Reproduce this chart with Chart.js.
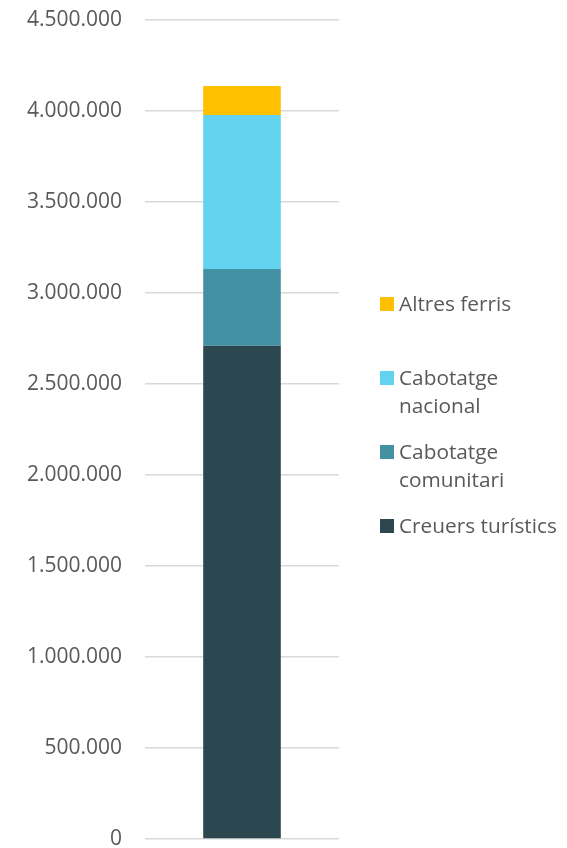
<!DOCTYPE html>
<html>
<head>
<meta charset="utf-8">
<script src="https://cdn.jsdelivr.net/npm/chart.js@4.4.1/dist/chart.umd.min.js"></script>
<style>
  html, body { margin: 0; padding: 0; background: #fff; }
  #wrap { width: 567px; height: 848px; }
</style>
</head>
<body>
<div id="wrap"><canvas id="chart"></canvas></div>
<script>
  // Data (single stacked column)
  var categories = [''];
  var seriesNames = ['Creuers turístics', 'Cabotatge comunitari', 'Cabotatge nacional', 'Altres ferris'];
  var seriesValues = [[2710000], [422000], [846000], [159000]];
  var seriesColors = ['#2D4750', '#4391A3', '#62D2EE', '#FFC000'];
  var yTicks = [0, 500000, 1000000, 1500000, 2000000, 2500000, 3000000, 3500000, 4000000, 4500000];

  var textColor = '#595959';
  var fontFamily = '"Open Sans", sans-serif';

  function formatNumber(v) {
    return String(v).replace(/\B(?=(\d{3})+(?!\d))/g, '.');
  }

  // Legend drawn on the right, top of stack listed first, long names wrapped
  var sideLegend = {
    id: 'sideLegend',
    afterDraw: function (chart) {
      var ctx = chart.ctx;
      var ds = chart.data.datasets.slice().reverse();
      ctx.save();
      ctx.font = '20.8px ' + fontFamily;
      ctx.textBaseline = 'alphabetic';
      ctx.textAlign = 'left';
      ds.forEach(function (d, i) {
        var y0 = 297 + 74 * i;
        ctx.fillStyle = d.backgroundColor;
        ctx.fillRect(380, y0, 14, 14);
        var lines = [d.label];
        if (ctx.measureText(d.label).width > 170) {
          lines = d.label.split(' ');
        }
        ctx.fillStyle = textColor;
        lines.forEach(function (line, j) {
          ctx.fillText(line, 399, y0 + 14 + 28 * j);
        });
      });
      ctx.restore();
    }
  };

  new Chart(document.getElementById('chart').getContext('2d'), {
    type: 'bar',
    data: {
      labels: categories,
      datasets: seriesNames.map(function (name, i) {
        return {
          label: name,
          data: seriesValues[i],
          backgroundColor: seriesColors[i],
          borderWidth: 0,
          barPercentage: 0.4,
          categoryPercentage: 1
        };
      })
    },
    options: {
      responsive: true,
      maintainAspectRatio: false,
      animation: false,
      layout: { padding: { top: 20, right: 228, bottom: 9, left: 0 } },
      plugins: {
        legend: { display: false },
        tooltip: { enabled: false }
      },
      scales: {
        x: {
          stacked: true,
          display: false
        },
        y: {
          stacked: true,
          min: 0,
          max: 4500000,
          afterBuildTicks: function (scale) {
            scale.ticks = yTicks.map(function (v) { return { value: v }; });
          },
          afterFit: function (scale) {
            scale.width = 145;
            scale.paddingTop = 0;
            scale.paddingBottom = 0;
          },
          border: { display: false },
          grid: { color: '#d9d9d9', lineWidth: 1.5, drawTicks: false },
          ticks: {
            padding: 23,
            color: textColor,
            font: { family: fontFamily, size: 21 },
            callback: function (v) { return formatNumber(v); }
          }
        }
      }
    },
    plugins: [sideLegend]
  });
</script>
</body>
</html>
